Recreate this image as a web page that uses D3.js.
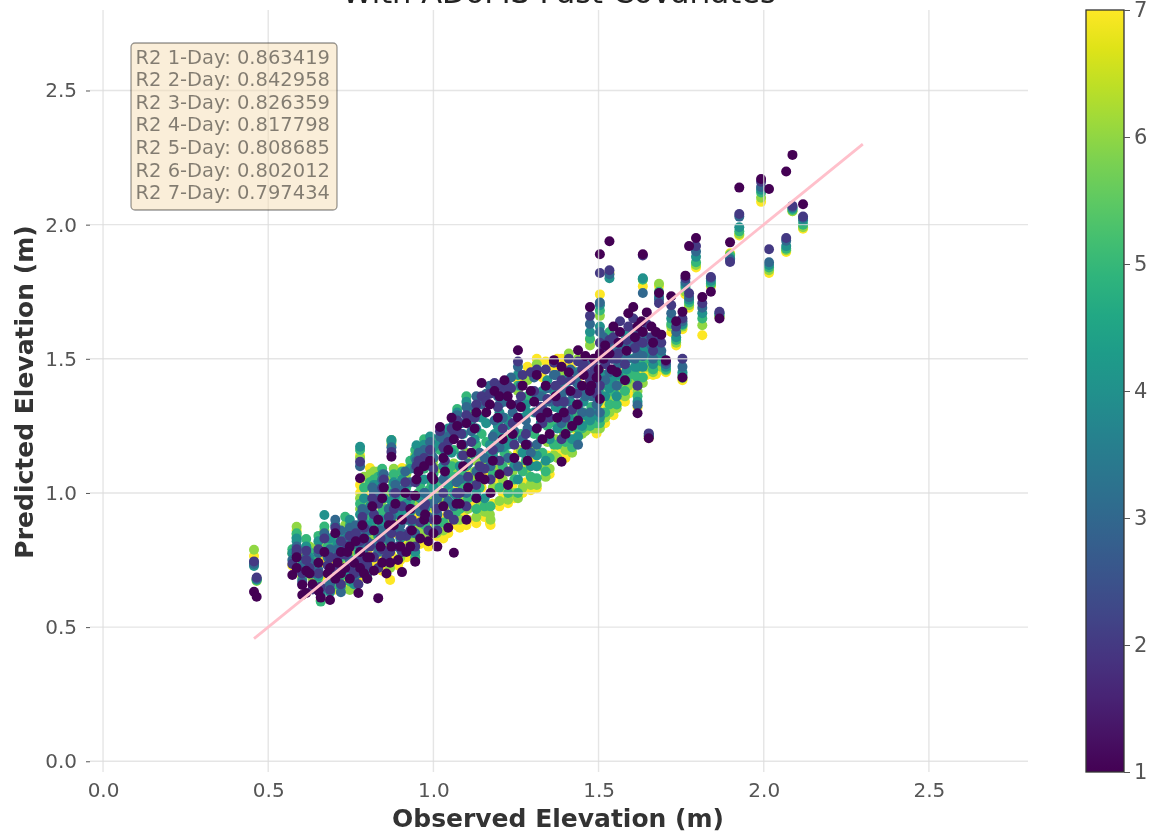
<!DOCTYPE html>
<html>
<head>
<meta charset="utf-8">
<script src="https://d3js.org/d3.v7.min.js"></script>
<style>
html, body { margin: 0; padding: 0; background: #fff; overflow: hidden; }
svg { display: block; font-family: "DejaVu Sans", sans-serif; filter: blur(0.6px); }
</style>
</head>
<body>
<svg id="chart" width="1151" height="837"></svg>
<script>
const days = [1, 2, 3, 4, 5, 6, 7];
const r2Scores = ["0.863419", "0.842958", "0.826359", "0.817798", "0.808685", "0.802012", "0.797434"];
const axisTicks = [0, 0.5, 1, 1.5, 2, 2.5];
const fitLine = [0.457, 2.3];

// each row of predicted = day 1 .. day 7 for the observed value at the same index
const lowObserved = [
  .457, .465, .573, .586, .586, .603, .603, .615, .615, .634,
  .652, .652, .659, .67, .687, .687, .703, .703, .72, .72,
  .733, .747, .747, .76, .773, .778, .778, .778, .79, .79, .80
];
const lowPredicted = [
  [.632,.745,.735,.728,.742,.788,.765], [.613,.685,.68,.678,.675,.672,.68],
  [.694,.735,.75,.775,.79,.775,.73], [.72,.79,.78,.83,.85,.874,.86],
  [.76,.775,.80,.82,.835,.845,.74], [.657,.70,.725,.74,.68,.76,.72],
  [.62,.66,.67,.70,.72,.75,.69], [.627,.75,.74,.80,.828,.77,.70],
  [.71,.785,.76,.79,.80,.73,.71], [.66,.64,.70,.73,.75,.68,.72],
  [.636,.70,.713,.69,.66,.67,.76], [.74,.79,.775,.82,.84,.81,.76],
  [.61,.65,.64,.62,.595,.60,.69], [.78,.83,.85,.918,.875,.86,.74],
  [.601,.638,.66,.63,.65,.67,.69], [.72,.76,.79,.83,.80,.78,.74],
  [.85,.87,.90,.88,.81,.77,.74], [.68,.72,.76,.70,.66,.65,.64],
  [.78,.82,.86,.80,.76,.74,.67], [.70,.66,.63,.65,.69,.72,.75],
  [.72,.77,.81,.85,.911,.88,.84], [.68,.72,.75,.70,.67,.638,.66],
  [.80,.84,.87,.90,.88,.82,.78], [.74,.70,.68,.66,.72,.80,.85],
  [.627,.66,.70,.74,.78,.72,.68], [1.055,1.116,1.10,1.172,1.16,1.13,1.14],
  [.78,.82,.86,.92,.96,.98,1.03], [.72,.76,.80,.84,.88,.94,1.0],
  [.70,.74,.79,.84,.90,.96,.99], [.83,.87,.93,.98,1.02,1.06,1.01],
  [.68,.75,.82,.88,.92,.95,.78]
];

const midObserved = [
  .808, .82, .82, .833, .833, .845, .845, .858, .869, .873,
  .873, .88, .893, .905, .905, .918, .93, .93, .945, .945,
  .949, .96, .972, .972, .985, .99, 1.0, 1.0, 1.012, 1.02,
  1.03, 1.03, 1.045, 1.045, 1.062, 1.062, 1.072, 1.08, 1.09, 1.10,
  1.10, 1.115, 1.13, 1.13, 1.146, 1.155, 1.171, 1.173, 1.185, 1.20,
  1.20, 1.215, 1.226, 1.235, 1.245, 1.256, 1.256, 1.27, 1.285, 1.295
];
const midPredicted = [
  [.76,.80,.86,.95,1.04,1.07,1.093], [.71,.76,.81,.90,.98,1.02,.74],
  [.86,.92,1.00,1.03,1.05,1.08,.83], [.608,.72,.78,.84,.88,.91,.75],
  [.90,.96,1.0,1.03,1.06,1.08,.85], [.74,.79,.83,.88,.93,.97,.71],
  [.98,1.02,1.05,1.07,1.09,1.06,.94], [.70,.76,.84,.90,.94,.99,.76],
  [.74,.78,.82,.86,.90,.72,.676], [1.135,1.153,1.17,1.197,1.19,1.197,1.18],
  [.80,.85,.91,.97,1.02,1.05,.77], [.88,.94,1.0,1.04,1.07,1.09,.85],
  [.75,.80,.86,.92,.97,1.01,.73], [.705,.78,.85,.93,1.0,1.06,1.093],
  [.90,.95,1.01,1.05,1.08,1.075,.82], [.78,.84,.90,.96,1.02,1.07,.76],
  [.94,.99,1.04,1.09,1.12,1.10,.83], [.80,.86,.90,.93,.97,.81,.78],
  [.744,.80,.85,.78,.76,.75,.77], [.99,1.04,1.09,1.13,1.16,1.14,.89],
  [1.05,1.10,1.12,1.178,1.16,1.09,.95], [.83,.89,.93,.98,1.03,.87,.81],
  [.90,.95,1.0,1.05,1.09,1.13,.86], [1.10,1.13,1.16,1.18,1.20,1.17,.96],
  [.82,.86,.91,.96,1.01,.85,.80], [1.12,1.16,1.19,1.21,1.195,1.17,1.0],
  [.85,.90,.96,1.02,1.07,1.12,.88], [1.05,1.09,1.13,1.17,1.20,.95,.92],
  [.80,.86,.92,.98,1.04,1.09,.84], [1.246,1.23,1.21,1.19,1.16,1.0,.96],
  [.95,1.0,1.05,1.10,.89,.86,.83], [1.13,1.17,1.20,1.22,1.04,.98,.95],
  [.87,.92,.97,1.03,1.08,.90,.85], [1.16,1.19,1.21,1.24,1.10,1.02,1.0],
  [.777,.90,.95,1.0,1.06,1.11,.92], [1.20,1.23,1.26,1.22,1.16,1.28,1.05],
  [1.25,1.27,1.29,1.30,1.313,1.09,1.02], [.96,1.0,1.05,1.10,.94,.90,.87],
  [1.10,1.14,1.18,1.22,1.02,.97,.92], [1.26,1.29,1.32,1.34,1.36,1.15,1.07],
  [.90,.95,1.0,1.05,1.10,1.14,.88], [1.15,1.19,1.23,1.27,1.30,1.05,.95],
  [.98,1.03,1.08,1.0,.94,.91,.887], [1.30,1.33,1.36,1.24,1.18,1.12,1.06],
  [1.41,1.36,1.33,1.28,1.22,1.10,1.02], [1.05,1.09,1.13,.98,.95,.93,.91],
  [1.33,1.37,1.40,1.18,1.12,.92,.888], [1.0,1.05,1.10,1.15,.95,.90,.881],
  [1.38,1.41,1.27,1.22,1.16,1.10,1.02], [1.07,1.12,1.17,1.22,1.02,.97,.95],
  [1.36,1.40,1.33,1.30,1.27,1.24,1.12], [1.42,1.38,1.34,1.28,1.15,1.08,1.01],
  [1.03,1.08,1.13,1.18,1.0,.975,.962], [1.33,1.39,1.43,1.25,1.20,1.12,1.08],
  [1.13,1.18,1.23,1.10,1.05,1.0,.98], [1.532,1.49,1.47,1.44,1.40,1.38,1.42],
  [1.28,1.33,1.10,1.05,1.0,.98,1.15], [1.40,1.44,1.20,1.15,1.08,1.02,1.0],
  [1.12,1.18,1.24,1.30,1.36,1.42,1.47], [1.38,1.45,1.15,1.10,1.06,1.03,1.01]
];

const upperObserved = [
  1.313, 1.313, 1.33, 1.34, 1.352, 1.365, 1.375, 1.388, 1.388, 1.40,
  1.41, 1.42, 1.438, 1.438, 1.45, 1.46, 1.474, 1.474, 1.485, 1.494,
  1.504, 1.504, 1.504, 1.52, 1.533, 1.533, 1.545, 1.555, 1.565, 1.58,
  1.59, 1.605, 1.618, 1.618, 1.634, 1.634, 1.646, 1.652, 1.66, 1.674,
  1.683, 1.69, 1.704, 1.72, 1.735, 1.754, 1.754, 1.763, 1.774, 1.795,
  1.814, 1.84, 1.866, 1.898, 1.926, 1.992, 2.016, 2.068, 2.087, 2.119
];
const upperPredicted = [
  [1.24,1.30,1.36,1.10,1.055,1.03,1.018], [1.44,1.46,1.18,1.14,1.10,1.48,1.50],
  [1.20,1.26,1.32,1.38,1.15,1.10,1.43], [1.40,1.46,1.30,1.12,1.08,1.06,1.49],
  [1.22,1.28,1.34,1.20,1.13,1.09,1.07], [1.495,1.485,1.44,1.38,1.18,1.14,1.47],
  [1.28,1.34,1.40,1.24,1.18,1.13,1.50], [1.116,1.20,1.26,1.32,1.38,1.44,1.14],
  [1.47,1.42,1.36,1.30,1.24,1.18,1.50], [1.22,1.28,1.34,1.40,1.19,1.16,1.13],
  [1.45,1.50,1.38,1.28,1.24,1.52,1.48], [1.25,1.31,1.37,1.20,1.17,1.15,1.46],
  [1.532,1.49,1.44,1.38,1.32,1.50,1.22], [1.27,1.33,1.18,1.21,1.24,1.26,1.43],
  [1.40,1.46,1.30,1.25,1.24,1.22,1.27], [1.51,1.45,1.36,1.29,1.25,1.23,1.40],
  [1.693,1.66,1.63,1.60,1.575,1.55,1.57], [1.38,1.42,1.30,1.27,1.25,1.28,1.24],
  [1.50,1.47,1.36,1.30,1.26,1.24,1.32], [1.43,1.37,1.33,1.29,1.26,1.24,1.222],
  [1.89,1.82,1.71,1.70,1.68,1.66,1.74], [1.52,1.56,1.60,1.62,1.50,1.45,1.39],
  [1.35,1.40,1.30,1.28,1.26,1.24,1.45], [1.55,1.48,1.42,1.36,1.30,1.28,1.26],
  [1.938,1.83,1.815,1.80,1.60,1.58,1.82], [1.52,1.57,1.45,1.39,1.33,1.30,1.41],
  [1.62,1.58,1.50,1.44,1.38,1.34,1.29], [1.45,1.50,1.40,1.36,1.33,1.316,1.46],
  [1.60,1.64,1.55,1.50,1.44,1.39,1.35], [1.42,1.48,1.54,1.59,1.38,1.36,1.34],
  [1.67,1.62,1.56,1.50,1.44,1.40,1.37], [1.693,1.65,1.60,1.55,1.50,1.45,1.40],
  [1.297,1.40,1.327,1.34,1.36,1.38,1.32], [1.62,1.57,1.52,1.47,1.43,1.40,1.45],
  [1.89,1.885,1.745,1.80,1.796,1.795,1.77], [1.60,1.56,1.51,1.47,1.43,1.41,1.45],
  [1.673,1.63,1.58,1.54,1.50,1.47,1.44], [1.204,1.222,1.215,1.21,1.22,1.21,1.205],
  [1.62,1.58,1.55,1.52,1.50,1.48,1.50], [1.60,1.57,1.54,1.52,1.50,1.49,1.443],
  [1.745,1.707,1.72,1.73,1.75,1.78,1.77], [1.59,1.56,1.53,1.51,1.49,1.47,1.46],
  [1.495,1.49,1.48,1.47,1.46,1.457,1.45], [1.733,1.70,1.67,1.65,1.63,1.62,1.60],
  [1.64,1.62,1.60,1.58,1.57,1.56,1.55], [1.675,1.65,1.64,1.63,1.626,1.62,1.61],
  [1.43,1.50,1.47,1.45,1.44,1.428,1.42], [1.81,1.80,1.785,1.775,1.765,1.75,1.74],
  [1.92,1.744,1.73,1.72,1.71,1.70,1.69], [1.95,1.92,1.90,1.88,1.86,1.85,1.84],
  [1.73,1.707,1.69,1.67,1.65,1.625,1.588], [1.75,1.805,1.80,1.79,1.78,1.775,1.77],
  [1.65,1.675,1.67,1.67,1.66,1.66,1.655], [1.934,1.861,1.87,1.875,1.885,1.89,1.893],
  [2.138,2.04,2.03,1.99,1.975,1.965,1.96], [2.17,2.16,2.14,2.13,2.12,2.10,2.085],
  [2.133,1.908,1.86,1.85,1.84,1.83,1.82], [2.198,1.95,1.94,1.92,1.91,1.905,1.898],
  [2.26,2.07,2.065,2.06,2.055,2.05,2.05], [2.076,2.03,2.025,2.015,2.0,1.99,1.985]
];

// tighter stacks between the columns above, fills the dense middle
const fillObserved = [
  .625, .68, .71, .74, .765, .785, .80, .815, .84, .85,
  .865, .885, .90, .915, .935, .955, .975, .995, 1.01, 1.035,
  1.055, 1.07, 1.085, 1.105, 1.125, 1.14, 1.16, 1.18, 1.195, 1.21,
  1.225, 1.24, 1.265, 1.28, 1.305, 1.325, 1.345, 1.37, 1.395, 1.415,
  1.435, 1.455, 1.478, 1.5, 1.515, 1.54, 1.56, 1.585, 1.61, 1.63, 1.665
];
const fillPredicted = [
  [.70,.72,.74,.76,.78,.80,.73], [.70,.73,.76,.78,.80,.82,.75],
  [.74,.76,.79,.81,.83,.80,.78], [.78,.80,.83,.79,.77,.75,.73],
  [.82,.85,.88,.84,.80,.76,.72], [.88,.91,.94,.90,.86,.82,.78],
  [.76,.73,.70,.72,.68,.74,.77], [.95,.98,1.02,.93,.87,.83,.80],
  [.80,.83,.86,.90,.84,.78,.74], [1.02,1.05,1.07,.98,.93,.88,.84],
  [.88,.91,.94,.86,.82,.80,.76], [.96,1.0,1.03,.99,.93,.89,.87],
  [.80,.84,.88,.83,.79,.76,.75], [1.0,1.04,1.08,1.03,.97,.93,.91],
  [.86,.90,.94,.89,.85,.83,.81], [1.08,1.12,1.15,1.05,1.0,.96,.92],
  [.92,.96,1.0,.94,.88,.86,.84], [1.06,1.1,1.14,1.18,1.03,.97,.93],
  [.90,.94,.98,.93,.88,.85,.84], [1.08,1.12,1.16,1.06,1.0,.95,.91],
  [1.28,1.24,1.2,1.15,1.1,1.06,1.02], [.96,1.0,1.04,.99,.93,.90,.88],
  [1.18,1.22,1.26,1.14,1.08,1.03,.98], [1.02,1.06,1.11,1.05,.98,.94,.90],
  [1.24,1.28,1.32,1.2,1.14,1.08,1.03], [1.06,1.1,1.15,1.09,1.02,.97,.93],
  [1.3,1.34,1.37,1.26,1.19,1.12,1.07], [1.12,1.16,1.21,1.14,1.07,1.02,.96],
  [1.28,1.32,1.36,1.25,1.18,1.1,1.04], [1.2,1.24,1.28,1.17,1.1,1.05,1.0],
  [1.36,1.4,1.34,1.27,1.2,1.14,1.08], [1.22,1.26,1.3,1.2,1.13,1.08,1.03],
  [1.32,1.36,1.4,1.28,1.22,1.16,1.1], [1.18,1.22,1.27,1.33,1.12,1.08,1.04],
  [1.34,1.38,1.43,1.3,1.22,1.17,1.13], [1.28,1.32,1.36,1.26,1.2,1.15,1.1],
  [1.3,1.35,1.39,1.42,1.25,1.19,1.14], [1.36,1.4,1.44,1.32,1.26,1.2,1.16],
  [1.3,1.34,1.38,1.42,1.26,1.22,1.18], [1.38,1.42,1.46,1.34,1.28,1.24,1.2],
  [1.33,1.37,1.41,1.45,1.3,1.27,1.23], [1.44,1.48,1.39,1.34,1.3,1.27,1.25],
  [1.4,1.44,1.48,1.36,1.32,1.29,1.27], [1.46,1.5,1.42,1.38,1.34,1.3,1.28],
  [1.5,1.54,1.58,1.44,1.4,1.36,1.33], [1.46,1.5,1.54,1.42,1.38,1.35,1.32],
  [1.56,1.52,1.48,1.44,1.41,1.38,1.36], [1.53,1.57,1.5,1.46,1.42,1.4,1.38],
  [1.58,1.54,1.5,1.47,1.44,1.42,1.4], [1.64,1.6,1.56,1.53,1.5,1.47,1.45],
  [1.56,1.53,1.5,1.48,1.46,1.45,1.44]
];

const observed = lowObserved.concat(midObserved, upperObserved, fillObserved);
const predicted = lowPredicted.concat(midPredicted, upperPredicted, fillPredicted);

const svg = d3.select("#chart");

const x = d3.scaleLinear().domain([-0.0395, 2.8]).range([90, 1028]);
const y = d3.scaleLinear().domain([-0.04, 2.8]).range([772, 10]);
const color = d3.scaleSequential(d3.interpolateViridis).domain([1, 7]);

// title is cut off by the top of the window, same as the reference
svg.append("text")
  .attr("x", 559).attr("y", 3)
  .attr("text-anchor", "middle")
  .attr("font-size", 30.5)
  .attr("fill", "#222")
  .text("With ADoMS Past Covariates");

// points: day 7 first so that day 1 ends up on top
const points = [];
days.slice().reverse().forEach(function(day) {
  observed.forEach(function(obs, i) {
    points.push({ obs: obs, value: predicted[i][day - 1], day: day });
  });
});

svg.append("g").selectAll("circle")
  .data(points)
  .enter().append("circle")
  .attr("cx", function(d) { return x(d.obs); })
  .attr("cy", function(d) { return y(d.value); })
  .attr("r", 5)
  .attr("fill", function(d) { return color(d.day); });

// grid sits over the points, faint
const grid = svg.append("g")
  .attr("stroke", "#dcdcdc")
  .attr("stroke-opacity", 0.75)
  .attr("stroke-width", 1.4);
grid.selectAll(".gx").data(axisTicks).enter().append("line")
  .attr("x1", function(d) { return x(d); }).attr("x2", function(d) { return x(d); })
  .attr("y1", y.range()[1]).attr("y2", y.range()[0]);
grid.selectAll(".gy").data(axisTicks).enter().append("line")
  .attr("x1", x.range()[0]).attr("x2", x.range()[1])
  .attr("y1", function(d) { return y(d); }).attr("y2", function(d) { return y(d); });

svg.append("line")
  .attr("x1", x(fitLine[0])).attr("y1", y(fitLine[0]))
  .attr("x2", x(fitLine[1])).attr("y2", y(fitLine[1]))
  .attr("stroke", "#ffc0cb")
  .attr("stroke-width", 2.8);

// axes
const xAxis = svg.append("g")
  .attr("transform", "translate(0,772)")
  .call(d3.axisBottom(x).tickValues(axisTicks).tickFormat(d3.format(".1f")).tickSize(0).tickPadding(11));
const yAxis = svg.append("g")
  .attr("transform", "translate(90,0)")
  .call(d3.axisLeft(y).tickValues(axisTicks).tickFormat(d3.format(".1f")).tickSize(4).tickPadding(9));
[xAxis, yAxis].forEach(function(a) {
  a.select(".domain").remove();
  a.selectAll("text").attr("font-family", "DejaVu Sans").attr("font-size", 20).attr("fill", "#555");
  a.selectAll("line").attr("stroke", "#555");
});

svg.append("text")
  .attr("x", 558).attr("y", 827)
  .attr("text-anchor", "middle")
  .attr("font-size", 25).attr("font-weight", "bold").attr("fill", "#333")
  .text("Observed Elevation (m)");
svg.append("text")
  .attr("transform", "translate(33,392) rotate(-90)")
  .attr("text-anchor", "middle")
  .attr("font-size", 25).attr("font-weight", "bold").attr("fill", "#333")
  .text("Predicted Elevation (m)");

// R2 box
svg.append("rect")
  .attr("x", 131).attr("y", 43)
  .attr("width", 206).attr("height", 167)
  .attr("rx", 4)
  .attr("fill", "#f5deb3").attr("fill-opacity", 0.5)
  .attr("stroke", "#000").attr("stroke-opacity", 0.4).attr("stroke-width", 1.3);
svg.append("g").selectAll("text")
  .data(days)
  .enter().append("text")
  .attr("x", 135.5)
  .attr("y", function(d, i) { return 63.5 + i * 22.6; })
  .attr("font-size", 19.5)
  .attr("fill", "#000").attr("fill-opacity", 0.48)
  .text(function(d, i) { return "R2 " + d + "-Day: " + r2Scores[i]; });

// colorbar
const cbar = d3.scaleLinear().domain([1, 7]).range([772, 10]);
const grad = svg.append("defs").append("linearGradient")
  .attr("id", "viridis")
  .attr("x1", 0).attr("y1", 1).attr("x2", 0).attr("y2", 0);
d3.range(0, 1.001, 0.05).forEach(function(t) {
  grad.append("stop").attr("offset", t).attr("stop-color", d3.interpolateViridis(t));
});
svg.append("rect")
  .attr("x", 1086).attr("y", cbar(7))
  .attr("width", 38).attr("height", cbar(1) - cbar(7))
  .attr("fill", "url(#viridis)")
  .attr("stroke", "#333").attr("stroke-width", 1.3);
const cAxis = svg.append("g")
  .attr("transform", "translate(1124,0)")
  .call(d3.axisRight(cbar).tickValues(days).tickFormat(d3.format("d")).tickSize(6).tickPadding(4));
cAxis.select(".domain").remove();
cAxis.selectAll("text").attr("font-family", "DejaVu Sans").attr("font-size", 21).attr("fill", "#555");
cAxis.selectAll("line").attr("stroke", "#555");
</script>
</body>
</html>
